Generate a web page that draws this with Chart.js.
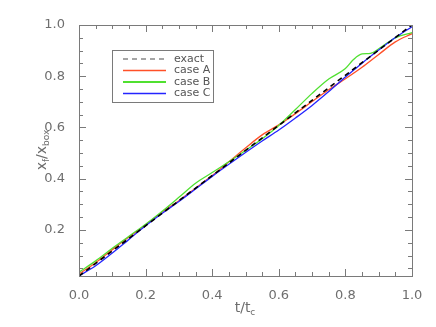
<!DOCTYPE html>
<html>
<head>
<meta charset="utf-8">
<script src="https://cdn.jsdelivr.net/npm/chart.js@4/dist/chart.umd.min.js"></script>
<style>
html,body{margin:0;padding:0;background:#fff;}
#c{display:block;}
</style>
</head>
<body>
<canvas id="c" width="436" height="327"></canvas>
<script>
// ---- data ----
const tValues = [0, 0.05, 0.1, 0.15, 0.2, 0.25, 0.3, 0.35, 0.4, 0.45, 0.5, 0.55, 0.6, 0.65, 0.7, 0.75, 0.8, 0.85, 0.9, 0.95, 1.0];
const caseA = [0.028, 0.072, 0.123, 0.172, 0.219, 0.270, 0.314, 0.363, 0.412, 0.466, 0.520, 0.571, 0.610, 0.654, 0.701, 0.747, 0.790, 0.835, 0.885, 0.934, 0.966];
const caseC = [0.020, 0.060, 0.110, 0.163, 0.216, 0.265, 0.311, 0.360, 0.409, 0.456, 0.502, 0.547, 0.590, 0.637, 0.686, 0.740, 0.797, 0.851, 0.902, 0.951, 0.993];
const tValuesB = [0, 0.05, 0.1, 0.15, 0.2, 0.25, 0.3, 0.35, 0.4, 0.45, 0.5, 0.55, 0.6, 0.65, 0.7, 0.75, 0.8, 0.825, 0.85, 0.875, 0.9, 0.95, 1.0];
const caseB = [0.035, 0.079, 0.128, 0.175, 0.222, 0.273, 0.327, 0.382, 0.424, 0.466, 0.510, 0.556, 0.608, 0.670, 0.733, 0.789, 0.830, 0.866, 0.887, 0.889, 0.907, 0.950, 0.970];
const tExact = [0, 1.0];
const exactValues = [0.02, 1.0];
const seriesLabels = ['exact', 'case A', 'case B', 'case C'];
const xTickValues = [0, 0.2, 0.4, 0.6, 0.8, 1.0];
const yTickValues = [0.2, 0.4, 0.6, 0.8, 1.0];
const xMinorStep = 0.05;
const yMinorStep = 0.05;

const GRAY = '#7a7a7a';
const TEXT = '#6e6e6e';
const FONT = '"DejaVu Sans", sans-serif';

function pts(xs, ys){ return xs.map((x,i)=>({x:x, y:ys[i]})); }

// inward ticks on all four sides + frame
const frameTicks = {
  id: 'frameTicks',
  afterDatasetsDraw(chart){
    const {ctx, chartArea:a, scales:{x, y}} = chart;
    ctx.save();
    ctx.strokeStyle = GRAY;
    ctx.lineWidth = 1;
    ctx.strokeRect(Math.round(a.left)+0.5, Math.round(a.top)+0.5, Math.round(a.right-a.left), Math.round(a.bottom-a.top));
    ctx.beginPath();
    const nx = Math.round((x.max - x.min)/xMinorStep);
    for(let i=0;i<=nx;i++){
      const v = x.min + i*xMinorStep;
      const major = xTickValues.some(t=>Math.abs(t-v)<1e-6);
      const L = major ? 7 : 4;
      const px = Math.round(x.getPixelForValue(v))+0.5;
      ctx.moveTo(px, a.bottom); ctx.lineTo(px, a.bottom-L);
      ctx.moveTo(px, a.top); ctx.lineTo(px, a.top+L);
    }
    for(let v=0; v<=y.max+1e-6; v+=yMinorStep){
      if(v < y.min-1e-6) continue;
      const major = yTickValues.some(t=>Math.abs(t-v)<1e-6);
      const L = major ? 7 : 4;
      const py = Math.round(y.getPixelForValue(v))+0.5;
      ctx.moveTo(a.left, py); ctx.lineTo(a.left+L, py);
      ctx.moveTo(a.right, py); ctx.lineTo(a.right-L, py);
    }
    ctx.stroke();
    ctx.restore();
  }
};

// legend box inside the plot
const boxLegend = {
  id: 'boxLegend',
  afterDraw(chart){
    const {ctx} = chart;
    const ds = chart.data.datasets;
    const bx = 112.5, by = 50.5, bw = 101, bh = 52;
    ctx.save();
    ctx.fillStyle = '#fff';
    ctx.fillRect(bx, by, bw, bh);
    ctx.strokeStyle = GRAY;
    ctx.lineWidth = 1;
    ctx.strokeRect(bx, by, bw, bh);
    const rows = [59, 70.5, 82, 93.5];
    ctx.font = '11px ' + FONT;
    ctx.textBaseline = 'middle';
    ds.forEach((d, i)=>{
      const yy = rows[i];
      ctx.beginPath();
      ctx.strokeStyle = i===0 ? '#888888' : d.borderColor;
      ctx.lineWidth = i===2 ? 2 : 1.3;
      ctx.setLineDash(d.borderDash || []);
      ctx.moveTo(123, yy); ctx.lineTo(166, yy);
      ctx.stroke();
      ctx.setLineDash([]);
      ctx.fillStyle = '#555';
      ctx.fillText(d.label, 174, yy);
    });
    ctx.restore();
  }
};

// axis titles with subscripts
const axisTitles = {
  id: 'axisTitles',
  afterDraw(chart){
    const {ctx} = chart;
    ctx.save();
    ctx.fillStyle = TEXT;
    ctx.textBaseline = 'alphabetic';
    function drawParts(parts, startX, baseY){
      let cx = startX;
      parts.forEach(p=>{
        ctx.font = (p.sub ? '9px ' : '14px ') + FONT;
        ctx.fillText(p.t, cx, baseY + (p.sub ? 3 : 0));
        cx += ctx.measureText(p.t).width + (p.gap||0);
      });
      return cx - startX;
    }
    function width(parts){
      let w = 0;
      parts.forEach(p=>{ ctx.font = (p.sub ? '9px ' : '14px ') + FONT; w += ctx.measureText(p.t).width + (p.gap||0); });
      return w;
    }
    const xt = [{t:'t'},{t:'/'},{t:'t'},{t:'c',sub:true}];
    const wx = width(xt);
    drawParts(xt, 245 - wx/2, 312);
    const yt = [{t:'x'},{t:'f',sub:true},{t:'/'},{t:'x'},{t:'box',sub:true}];
    const wy = width(yt);
    ctx.translate(46, 150);
    ctx.rotate(-Math.PI/2);
    drawParts(yt, -wy/2, 0);
    ctx.restore();
  }
};

const chart = new Chart(document.getElementById('c'), {
  type: 'line',
  data: {
    datasets: [
      {label: seriesLabels[0], data: pts(tExact, exactValues), borderColor: '#000000', borderWidth: 1.6, borderDash: [5,4], order: 0},
      {label: seriesLabels[1], data: pts(tValues, caseA), borderColor: '#ff5028', borderWidth: 1.3, order: 3},
      {label: seriesLabels[2], data: pts(tValuesB, caseB), borderColor: '#50e030', borderWidth: 1.3, order: 2},
      {label: seriesLabels[3], data: pts(tValues, caseC), borderColor: '#2424ff', borderWidth: 1.3, order: 1}
    ]
  },
  options: {
    responsive: false,
    animation: false,
    devicePixelRatio: 1,
    parsing: true,
    elements: { point: { radius: 0 }, line: { tension: 0.3, cubicInterpolationMode: 'monotone' } },
    layout: { padding: { top: 25, right: 24, left: 0, bottom: 0 } },
    plugins: { legend: { display: false }, tooltip: { enabled: false } },
    scales: {
      x: {
        type: 'linear', min: 0, max: 1,
        afterFit(s){ s.height = 51; },
        afterBuildTicks(s){ s.ticks = xTickValues.map(v=>({value:v})); },
        ticks: { padding: 4, color: TEXT, font: { family: FONT, size: 13 }, maxRotation: 0, callback: v=>Number(v).toFixed(1) },
        grid: { display: false },
        border: { display: false }
      },
      y: {
        type: 'linear', min: 0.02, max: 1.0,
        afterFit(s){ s.width = 79; },
        afterBuildTicks(s){ s.ticks = yTickValues.map(v=>({value:v})); },
        ticks: { padding: 6, color: TEXT, font: { family: FONT, size: 13 }, callback: v=>Number(v).toFixed(1) },
        grid: { display: false },
        border: { display: false }
      }
    }
  },
  plugins: [frameTicks, boxLegend, axisTitles]
});
</script>
</body>
</html>
